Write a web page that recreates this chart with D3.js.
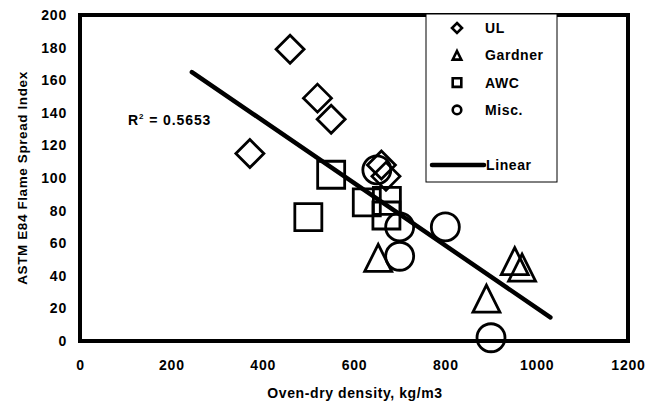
<!DOCTYPE html>
<html>
<head>
<meta charset="utf-8">
<script src="https://cdn.jsdelivr.net/npm/d3@7"></script>
<style>
  body { margin: 0; background: #fff; }
  svg text { font-family: "Liberation Sans", Arial, sans-serif; font-weight: bold; fill: #000; }
</style>
</head>
<body>
<script>
// series: density (kg/m3) and flame spread index
var ulX = [460, 520, 550, 372, 660, 670];
var ulY = [179, 149, 136, 115, 108, 101];
var gardnerX = [653, 890, 952, 968];
var gardnerY = [51, 26, 49, 45];
var awcX = [550, 500, 628, 672, 671];
var awcY = [102, 76, 85, 86, 77];
var miscX = [650, 700, 800, 700, 900];
var miscY = [105, 70, 70, 52, 2];
// linear trendline end points
var trendX = [245, 1030];
var trendY = [165, 14.5];

var xTicks = [0, 200, 400, 600, 800, 1000, 1200];
var yTicks = [0, 20, 40, 60, 80, 100, 120, 140, 160, 180, 200];
var legendNames = ['UL', 'Gardner', 'AWC', 'Misc.'];
var legendShapes = ['diamond', 'triangle', 'square', 'circle'];
var r2Label = '0.5653';

var svgWidth = 646;
var svgHeight = 406;
var plotLeft = 80, plotRight = 628, plotTop = 15, plotBottom = 341;

var xScale = d3.scaleLinear().domain([0, 1200]).range([plotLeft, plotRight]);
var yScale = d3.scaleLinear().domain([0, 200]).range([plotBottom, plotTop]);

var svg = d3.select('body').append('svg')
    .attr('width', svgWidth)
    .attr('height', svgHeight);

// marker outline for a shape of half-size h
function shapePath(shape, h) {
    var p = d3.path();
    if (shape == 'diamond') {
        p.moveTo(0, -h); p.lineTo(h, 0); p.lineTo(0, h); p.lineTo(-h, 0); p.closePath();
    } else if (shape == 'triangle') {
        p.moveTo(0, -h); p.lineTo(h, h); p.lineTo(-h, h); p.closePath();
    } else if (shape == 'square') {
        p.rect(-h, -h, 2 * h, 2 * h);
    } else {
        p.arc(0, 0, h, 0, 2 * Math.PI);
    }
    return p.toString();
}

// axes (labels only, the frame is drawn separately)
var xAxis = d3.axisBottom(xScale).tickValues(xTicks).tickFormat(d3.format('d'))
    .tickSize(0).tickPadding(19);
var yAxis = d3.axisLeft(yScale).tickValues(yTicks).tickFormat(d3.format('d'))
    .tickSize(0).tickPadding(13);

svg.append('g')
    .attr('transform', 'translate(0,' + plotBottom + ')')
    .call(xAxis);
svg.append('g')
    .attr('transform', 'translate(' + plotLeft + ',0)')
    .call(yAxis);
svg.selectAll('.domain').remove();
svg.selectAll('.tick text')
    .attr('fill', '#000')
    .style('font-size', '14px')
    .style('letter-spacing', '0.8px');

// series
var series = [
    { x: ulX, y: ulY, shape: 'diamond', h: 14 },
    { x: gardnerX, y: gardnerY, shape: 'triangle', h: 13.5 },
    { x: awcX, y: awcY, shape: 'square', h: 13.5 },
    { x: miscX, y: miscY, shape: 'circle', h: 14 }
];

series.forEach(function(s) {
    svg.append('g').selectAll('path')
        .data(s.x)
        .enter()
        .append('path')
        .attr('d', shapePath(s.shape, s.h))
        .attr('transform', function(d, i) {
            return 'translate(' + xScale(d) + ',' + yScale(s.y[i]) + ')';
        })
        .attr('fill', 'none')
        .attr('stroke', '#000')
        .attr('stroke-width', 2.8);
});

// trendline
var line = d3.line()
    .x(function(d) { return xScale(d); })
    .y(function(d, i) { return yScale(trendY[i]); });

svg.append('path')
    .attr('d', line(trendX))
    .attr('fill', 'none')
    .attr('stroke', '#000')
    .attr('stroke-width', 4.5)
    .attr('stroke-linecap', 'round');

// plot frame
svg.append('rect')
    .attr('x', plotLeft)
    .attr('y', plotTop)
    .attr('width', plotRight - plotLeft)
    .attr('height', plotBottom - plotTop)
    .attr('fill', 'none')
    .attr('stroke', '#000')
    .attr('stroke-width', 4);

// R squared
var r2 = svg.append('text')
    .attr('x', 128)
    .attr('y', 125)
    .style('font-size', '14px')
    .style('letter-spacing', '0.9px');
r2.append('tspan').text('R');
r2.append('tspan').attr('dy', -6).style('font-size', '8px').text('2');
r2.append('tspan').attr('dy', 6).text(' = ' + r2Label);

// legend
var legend = svg.append('g');
legend.append('rect')
    .attr('x', 426)
    .attr('y', 14)
    .attr('width', 131)
    .attr('height', 168)
    .attr('fill', '#fff')
    .attr('stroke', '#000')
    .attr('stroke-width', 1);

legendNames.forEach(function(name, i) {
    var cy = 28 + i * 27.3;
    legend.append('path')
        .attr('d', shapePath(legendShapes[i], legendShapes[i] == 'diamond' ? 5 : 4.3))
        .attr('transform', 'translate(457,' + cy + ')')
        .attr('fill', 'none')
        .attr('stroke', '#000')
        .attr('stroke-width', 2.6);
    legend.append('text')
        .attr('x', 485)
        .attr('y', cy + 5)
        .style('font-size', '14px')
        .style('letter-spacing', '0.6px')
        .text(name);
});

legend.append('line')
    .attr('x1', 432).attr('x2', 484)
    .attr('y1', 165).attr('y2', 165)
    .attr('stroke', '#000')
    .attr('stroke-width', 4.5)
    .attr('stroke-linecap', 'round');
legend.append('text')
    .attr('x', 486)
    .attr('y', 170)
    .style('font-size', '14px')
    .style('letter-spacing', '0.6px')
    .text('Linear');

// axis titles
svg.append('text')
    .attr('x', 355)
    .attr('y', 398)
    .attr('text-anchor', 'middle')
    .style('font-size', '14px')
    .style('letter-spacing', '0.6px')
    .text('Oven-dry density, kg/m3');

svg.append('text')
    .attr('transform', 'translate(27,178) rotate(-90)')
    .attr('text-anchor', 'middle')
    .style('font-size', '13.5px')
    .style('letter-spacing', '0.6px')
    .text('ASTM E84 Flame Spread Index');
</script>
</body>
</html>
